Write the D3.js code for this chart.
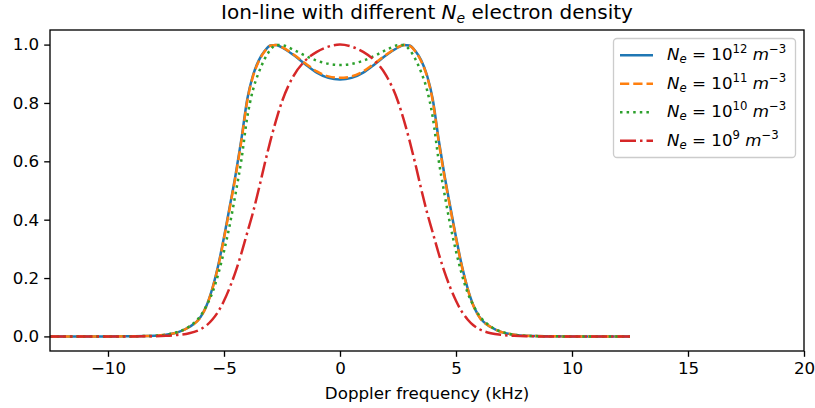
<!DOCTYPE html>
<html><head><meta charset="utf-8">
<script src="https://cdn.jsdelivr.net/npm/d3@7"></script>
<style>body{margin:0;background:#fff}svg{display:block;font-family:"DejaVu Sans",sans-serif}</style>
</head><body>
<svg id="c" width="815" height="408"></svg>
<script>
// Doppler frequency grid (kHz)
const freq = [-12.5,-11,-10,-9,-8,-7.5,-7,-6.5,-6,-5.75,-5.5,-5.25,-5,-4.75,-4.5,-4.25,-4,-3.75,-3.5,-3.25,-3,-2.75,-2.5,-2,-1.5,-1,-0.5,
  0,0.5,1,1.5,2,2.5,2.75,3,3.25,3.5,3.75,4,4.25,4.5,4.75,5,5.25,5.5,5.75,6,6.5,7,7.5,8,9,10,11,12.5];
const ne12 = [0,0,0,0.0005,0.002,0.006,0.014,0.032,0.068,0.106,0.165,0.243,0.340,0.446,0.554,0.676,0.812,0.895,0.946,0.978,0.997,0.999,0.990,0.964,0.933,0.904,0.886,
  0.880,0.886,0.904,0.933,0.964,0.990,0.999,0.997,0.978,0.946,0.895,0.812,0.676,0.554,0.446,0.340,0.243,0.165,0.106,0.068,0.032,0.014,0.006,0.002,0.0005,0,0,0];
const ne11 = [0,0,0,0.0005,0.002,0.006,0.014,0.032,0.067,0.105,0.163,0.240,0.336,0.441,0.549,0.670,0.806,0.891,0.943,0.976,0.996,0.999,0.991,0.966,0.936,0.908,0.891,
  0.886,0.891,0.908,0.936,0.966,0.991,0.999,0.996,0.976,0.943,0.891,0.806,0.670,0.549,0.441,0.336,0.240,0.163,0.105,0.067,0.032,0.014,0.006,0.002,0.0005,0,0,0];
const ne10 = [0,0,0,0.0005,0.002,0.006,0.015,0.034,0.072,0.106,0.150,0.213,0.292,0.383,0.490,0.605,0.750,0.845,0.905,0.950,0.982,0.999,0.998,0.982,0.962,0.945,0.934,
  0.930,0.934,0.945,0.962,0.982,0.998,0.999,0.982,0.950,0.905,0.845,0.750,0.605,0.490,0.383,0.292,0.213,0.150,0.106,0.072,0.034,0.015,0.006,0.002,0.0005,0,0,0];
const ne9 = [0,0,0,0,0.0005,0.002,0.005,0.011,0.025,0.038,0.058,0.085,0.122,0.168,0.222,0.285,0.355,0.425,0.505,0.590,0.670,0.742,0.805,0.893,0.945,0.975,0.993,
  1.0,0.993,0.975,0.945,0.893,0.805,0.742,0.670,0.590,0.505,0.425,0.355,0.285,0.222,0.168,0.122,0.085,0.058,0.038,0.025,0.011,0.005,0.002,0.0005,0,0,0,0];
const xTicks = [-10,-5,0,5,10,15,20];
const yTicks = [0.0,0.2,0.4,0.6,0.8,1.0];
const seriesNames = ["12","11","10","9"];
const seriesColors = ["#1f77b4","#ff7f0e","#2ca02c","#d62728"];
const seriesDash = [null,"9.25,4","2.5,4.1","16,4,2.5,4"];
const seriesData = [ne12,ne11,ne10,ne9];

const svg = d3.select("#c");
const L=50,R=804,T=30,B=351;
const x = d3.scaleLinear().domain([-12.5,20]).range([L,R]);
const y = d3.scaleLinear().domain([-0.05,1.05]).range([B,T]);
const FS = 16.7;

// Title
const title = svg.append("text").attr("x",(L+R)/2).attr("y",19).attr("text-anchor","middle").attr("font-size","20px").attr("fill","#000");
title.append("tspan").text("Ion-line with different ");
title.append("tspan").attr("font-style","italic").text("N");
title.append("tspan").attr("font-style","italic").attr("font-size","14px").attr("dy","3.5").text("e");
title.append("tspan").attr("dy","-3.5").text(" electron density");

// clip
svg.append("clipPath").attr("id","clip").append("rect").attr("x",L).attr("y",T).attr("width",R-L).attr("height",B-T);

const line = d3.line().x((d,i)=>x(freq[i])).y(d=>y(d)).curve(d3.curveMonotoneX);
const g = svg.append("g").attr("clip-path","url(#clip)");
seriesData.forEach((s,k)=>{
  g.append("path").datum(s).attr("d",line).attr("fill","none")
   .attr("stroke",seriesColors[k]).attr("stroke-width",2.5)
   .attr("stroke-dasharray",seriesDash[k]);
});

// axes
const xAx = svg.append("g").attr("transform",`translate(0,${B})`)
  .call(d3.axisBottom(x).tickValues(xTicks).tickSize(5.8).tickPadding(5).tickFormat(d=>d<0?"\u2212"+(-d):d));
const yAx = svg.append("g").attr("transform",`translate(${L},0)`)
  .call(d3.axisLeft(y).tickValues(yTicks).tickSize(5.8).tickPadding(5).tickFormat(d3.format(".1f")));
[xAx,yAx].forEach(a=>{
  a.select(".domain").remove();
  a.selectAll("line").attr("stroke","#000").attr("stroke-width",1.33);
  a.selectAll("text").attr("font-size",FS+"px").attr("fill","#000").attr("font-family","DejaVu Sans");
});
svg.append("rect").attr("x",L).attr("y",T).attr("width",R-L).attr("height",B-T)
  .attr("fill","none").attr("stroke","#000").attr("stroke-width",1.33);

svg.append("text").attr("x",(L+R)/2).attr("y",399).attr("text-anchor","middle").attr("font-size",FS+"px").text("Doppler frequency (kHz)");

// legend
const lg = svg.append("g");
lg.append("rect").attr("x",613.5).attr("y",38.5).attr("width",182).attr("height",119).attr("rx",3.5)
  .attr("fill","#fff").attr("fill-opacity",0.8).attr("stroke","#cccccc").attr("stroke-width",1.33);
seriesNames.forEach((n,k)=>{
  const yy = 55.3 + k*28.5;
  lg.append("line").attr("x1",620).attr("x2",653).attr("y1",yy).attr("y2",yy)
    .attr("stroke",seriesColors[k]).attr("stroke-width",2.5).attr("stroke-dasharray",seriesDash[k]);
  const t = lg.append("text").attr("x",667).attr("y",yy+5).attr("font-size",FS+"px");
  t.append("tspan").attr("font-style","italic").text("N");
  t.append("tspan").attr("font-style","italic").attr("font-size","11.7px").attr("dy","3").text("e");
  t.append("tspan").attr("dy","-3").text(" = 10");
  t.append("tspan").attr("font-size","11.7px").attr("dy","-7").text(n);
  t.append("tspan").attr("dy","7").attr("font-style","italic").text(" m");
  t.append("tspan").attr("font-size","11.7px").attr("dy","-7").text("\u22123");
});
</script>
</body></html>
